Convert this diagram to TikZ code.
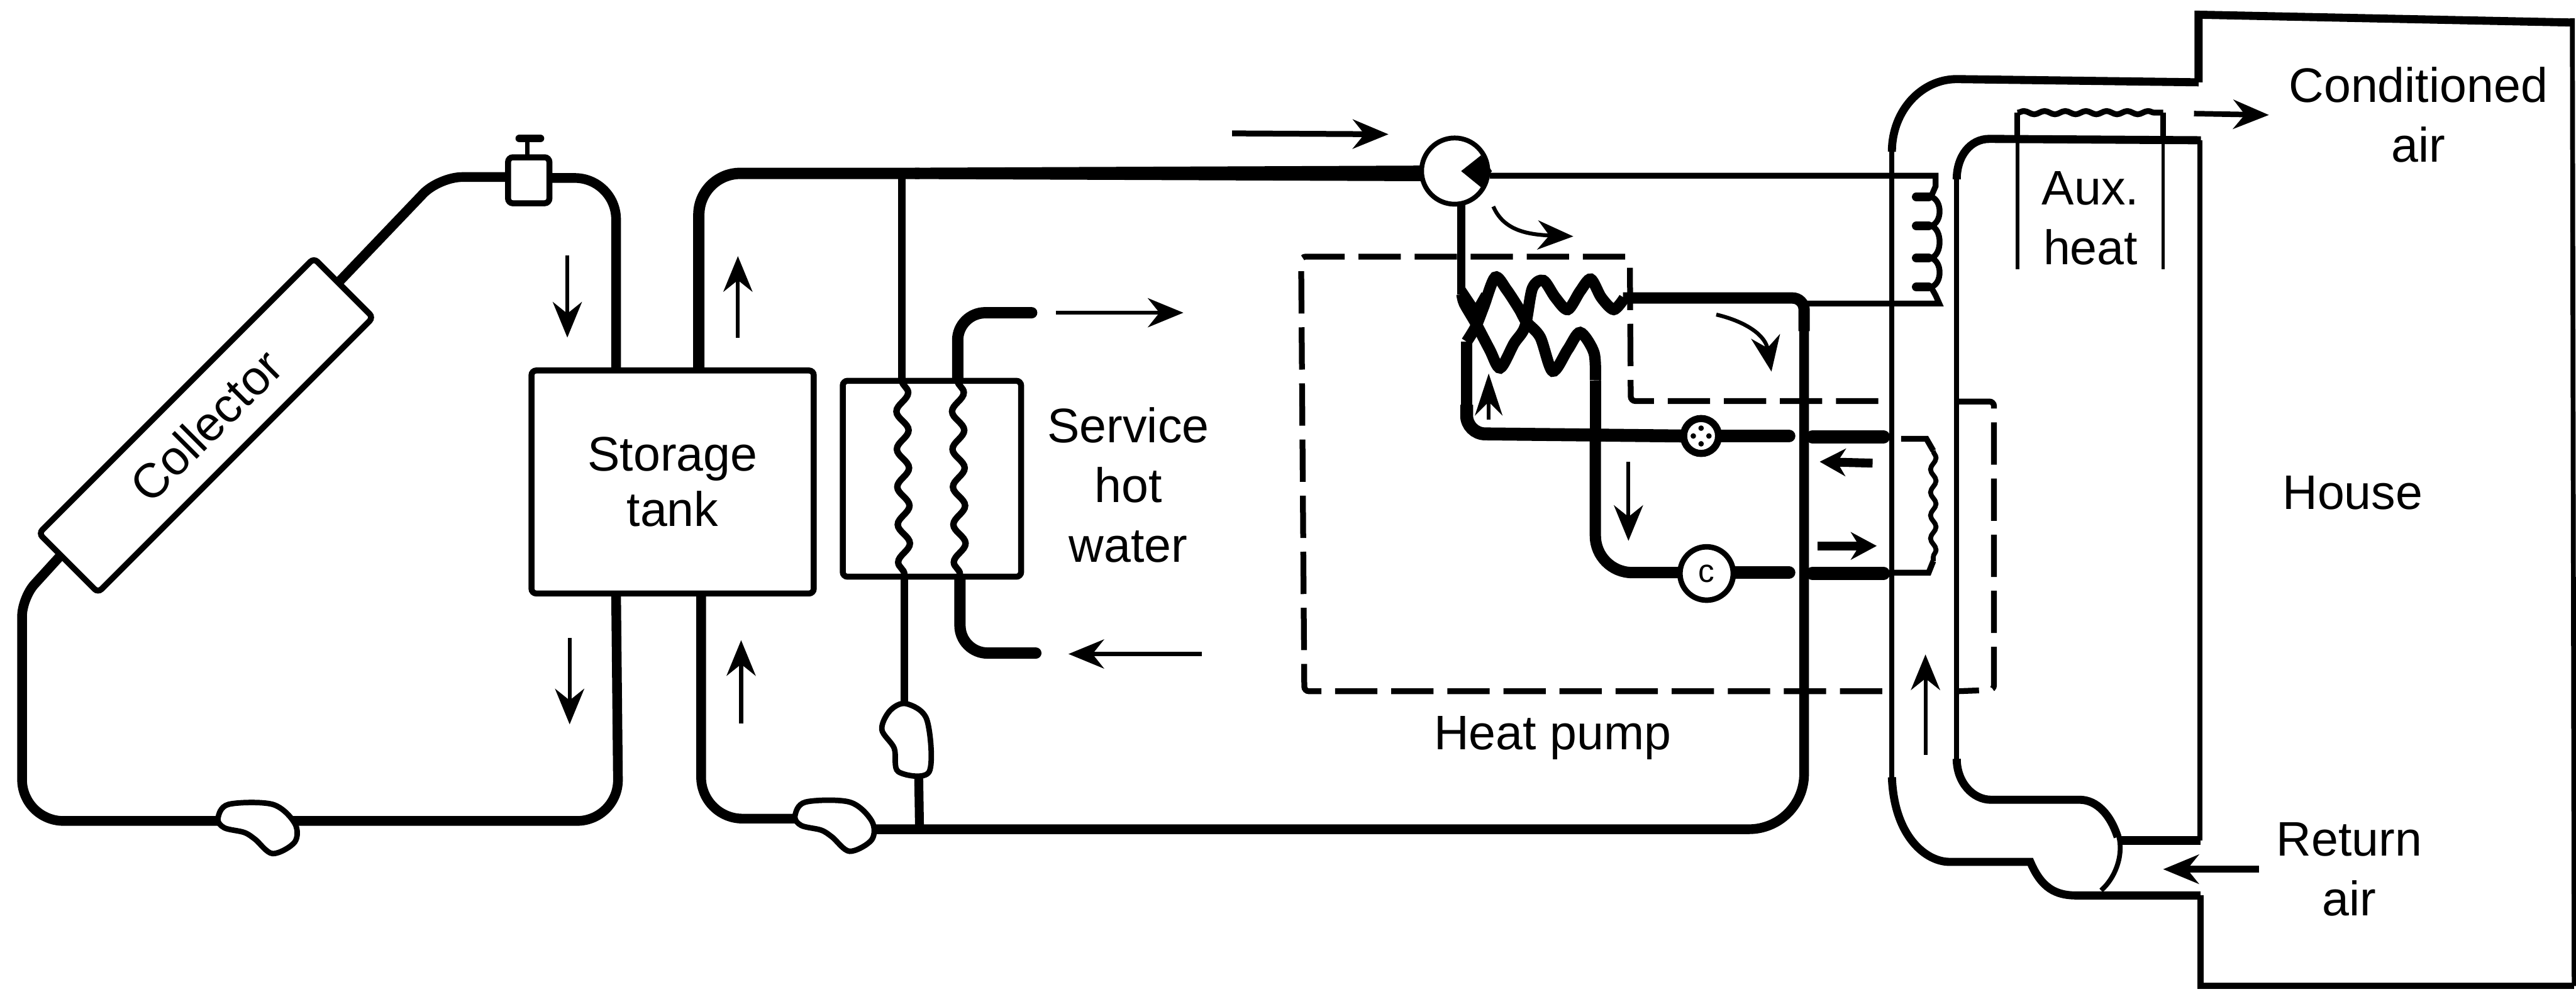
\documentclass[tikz,border=0pt]{standalone}
\usepackage{fontspec}
\setmainfont{Liberation Sans}
\usepackage{tikz}
\usetikzlibrary{arrows.meta,decorations.pathmorphing}

\tikzset{
  labeltext/.style={font=\fontsize{30}{37}\selectfont, align=center, inner sep=0pt},
  boxnode/.style={draw, line width=3.7pt, fill=white, rounded corners=3pt, inner sep=0pt},
  pipe/.style={line width=6pt},
  coilpipe/.style={line width=7pt},
  fatpipe/.style={line width=8pt, line cap=round},
  thinpipe/.style={line width=3.6pt},
  ductline/.style={line width=3pt},
  ductfat/.style={line width=5pt},
  pumpline/.style={draw, line width=3.4pt, fill=white},
  dashline/.style={line width=3.6pt, dash pattern=on 0.92cm off 0.3cm},
  wavy/.style={line width=4pt, decorate, decoration={snake, amplitude=0.13cm, segment length=0.82cm}},
  flowarrow/.style={line width=2.4pt, -{Stealth[length=22pt, width=18pt]}},
  fatarrow/.style={line width=5.5pt, -{Stealth[length=16pt, width=17pt]}},
}

\newcommand{\pumpbody}[1]{
  \draw[pumpline, shift={(#1)}] plot[smooth cycle, tension=0.55] coordinates
    {(-0.86,-0.05) (-0.63,-0.36) (0.33,-0.36) (0.81,0.05) (0.81,0.46) (0.33,0.71) (-0.05,0.4) (-0.29,0.25) (-0.72,0.15)};
}

\begin{document}
\begin{tikzpicture}[x=1cm, y=-1cm]
\useasboundingbox (0,0) rectangle (56.03,21.6);

% coordinates on the pipes
\coordinate (pumpA) at (5.6,17.85);
\coordinate (pumpB) at (18.15,17.8);
\coordinate (pumpBout) at (18.7,18.03);
\coordinate (pumpCin) at (19.67,15.4);
\coordinate (pumpCout) at (19.98,16.7);
\coordinate (colTop) at (7.4,6.1);
\coordinate (colLow) at (1.3,12.1);
\coordinate (valveIn) at (11.2,3.85);
\coordinate (valveOut) at (11.8,3.87);
\coordinate (tankTL) at (13.4,8.05);
\coordinate (tankBL) at (13.4,12.9);
\coordinate (tankTR) at (15.2,8.05);
\coordinate (tankBR) at (15.25,12.9);
\coordinate (exTL) at (19.62,8.28);
\coordinate (exBL) at (19.67,12.54);
\coordinate (exTR) at (20.83,8.28);
\coordinate (exBR) at (20.88,12.54);
\coordinate (coilEnd) at (35.3,6.48);
\coordinate (junction) at (39.24,6.6);

% collector loop
\draw[pipe, rounded corners=0.5cm] (colTop) -- (9.55,3.85) -- (valveIn);
\draw[pipe, rounded corners=0.9cm] (valveOut) -- (13.4,3.87) -- (tankTL);
\draw[pipe] (colLow) [rounded corners=0.4cm] -- (0.48,13.0) [rounded corners=0.9cm] -- (0.48,17.85) -- (pumpA);
\draw[pipe, rounded corners=0.9cm] (pumpA) -- (13.45,17.85) -- (tankBL);

% storage loop
\draw[pipe, line width=7pt, rounded corners=0.9cm] (tankTR) -- (15.2,3.77) -- (20,3.77);
\fill (19.9,3.647) -- (31,3.6) -- (31,3.94) -- (19.9,3.893) -- cycle;
\draw[pipe, rounded corners=0.9cm] (tankBR) -- (15.25,17.8) -- (pumpB);
\draw[pipe, rounded corners=1.2cm] (pumpBout) -- (39.24,18.03) -- (junction);
\draw[thinpipe, line width=4.6pt] (19.62,3.77) -- (exTL);
\draw[thinpipe, line width=4.6pt] (exBL) -- (pumpCin);
\draw[thinpipe, line width=5.5pt] (pumpCout) -- (20.0,18.03);

% service water
\draw[fatpipe, line width=7pt, rounded corners=0.6cm] (exTR) -- (20.83,6.8) -- (22.44,6.8);
\draw[fatpipe, line width=7pt, rounded corners=0.6cm] (exBR) -- (20.88,14.2) -- (22.53,14.2);
\node[boxnode, minimum width=3.88cm, minimum height=4.26cm] (exchanger) at (20.27,10.41) {};
\draw[wavy] (exTL) -- (exBL);
\draw[wavy] (exTR) -- (exBR);

% heat pump
\draw[thinpipe, line width=5pt] (31.78,4.3) -- (31.78,6.4);
\draw[coilpipe] plot[smooth, tension=0.5] coordinates
  {(31.8,6.4) (31.85,6.6) (32.1,7.03) (32.4,7.6) (32.63,8.0) (32.93,7.47) (33.17,7.1) (33.33,6.27) (33.57,6.1) (33.83,6.47) (34.1,6.73) (34.37,6.33) (34.6,6.07) (34.83,6.47) (35.1,6.73) (35.33,6.48)};
\draw[coilpipe] plot[smooth, tension=0.5] coordinates
  {(31.9,7.43) (32.1,7.1) (32.27,6.67) (32.52,6.03) (32.77,6.3) (33.05,6.73) (33.2,7.0) (33.5,7.33) (33.77,8.07) (34.1,7.6) (34.37,7.23) (34.67,7.67) (34.7,8.27)};
\draw[pipe, line width=5pt] (31.8,6.3) -- (32.1,6.75) -- (32.3,6.4);
\draw[coilpipe] (31.9,7.43) -- (31.9,8.9);
\draw[coilpipe] (34.7,8.27) -- (34.7,9.43);
\draw[fatpipe, line cap=butt, rounded corners=0.4cm] (31.9,8.8) -- (31.9,9.43) -- (36.6,9.48);
\draw[coilpipe, rounded corners=0.8cm] (34.7,9.43) -- (34.7,12.45) -- (36.6,12.45);
\draw[coilpipe, rounded corners=0.25cm] (coilEnd) -- (39.24,6.48) -- (39.24,7.2);
\draw[fatpipe] (37.4,12.45) -- (38.91,12.45);
\draw[fatpipe] (37.4,9.48) -- (38.91,9.48);
\draw[fatpipe] (39.42,9.5) -- (40.97,9.5);
\draw[fatpipe] (39.42,12.47) -- (40.97,12.47);

% dashed enclosure
\draw[dashline, rounded corners=0.1cm] (40.94,15.03) -- (28.37,15.03) -- (28.3,5.58) -- (35.45,5.58) -- (35.47,8.72) -- (41.16,8.72);
\draw[dashline, rounded corners=0.1cm] (42.56,8.73) -- (43.37,8.73) -- (43.37,15.0) -- (42.58,15.03);

% valves and compressor
\node[pumpline, circle, minimum size=1.44cm, line width=3pt] (threeway) at (31.64,3.72) {};
\fill (31.78,3.72) -- (32.21,3.38) -- (32.45,3.72) -- (32.21,4.07) -- cycle;
\node[pumpline, circle, minimum size=0.76cm, inner sep=0pt, line width=4.4pt] (expansion) at (37.0,9.48) {};
\foreach \a in {0,90,180,270}
  \fill (expansion.center) ++(\a:0.17) circle (0.06);
\node[pumpline, circle, minimum size=1.16cm, inner sep=0pt, font=\fontsize{20}{20}\selectfont] (compressor) at (37.12,12.47) {c};

% coils at the duct
\draw[thinpipe] (32.4,3.82) -- (42.1,3.82) -- (42.1,4.05) -- (42.0,4.28);
\draw[thinpipe] (junction) -- (42.18,6.6) -- (42.1,6.42) -- (42.0,6.24);
\foreach \y in {4.28,4.91,5.61,6.24}
  \draw[line width=5.4pt, line cap=round] (41.68,\y) -- (41.95,\y);
\draw[thinpipe] (42.0,4.28) .. controls (42.25,4.35) and (42.25,4.84) .. (42.0,4.91)
  .. controls (42.25,4.98) and (42.25,5.54) .. (42.0,5.61)
  .. controls (42.25,5.68) and (42.25,6.17) .. (42.0,6.24);
\draw[thinpipe] (41.35,9.54) -- (41.9,9.54) -- (42.05,9.8);
\draw[thinpipe, line width=3pt, decorate, decoration={snake, amplitude=0.06cm, segment length=0.5cm}] (42.05,9.8) -- (42.05,12.2);
\draw[thinpipe] (42.05,12.2) -- (41.95,12.45) -- (41.13,12.45);

% ducts and house
\draw[ductfat] (47.82,1.79) -- (42.56,1.72) .. controls (41.8,1.72) and (41.15,2.4) .. (41.15,3.3);
\draw[ductline] (41.15,3.2) -- (41.15,17.0);
\draw[ductfat] (41.15,16.9) .. controls (41.2,18.2) and (41.9,18.74) .. (42.4,18.74) -- (44.16,18.74) .. controls (44.4,19.3) and (44.7,19.48) .. (45.2,19.47) -- (47.86,19.47);
\draw[ductfat] (47.87,3.05) -- (43.27,3.02) .. controls (42.85,3.02) and (42.56,3.4) .. (42.56,3.9);
\draw[ductline] (42.56,3.8) -- (42.56,16.6);
\draw[ductfat] (42.56,16.5) .. controls (42.56,17.0) and (42.9,17.39) .. (43.31,17.39) -- (45.25,17.39) .. controls (45.6,17.4) and (45.9,17.7) .. (46.06,18.2);
\draw[ductfat, line width=5.5pt] (46.06,18.27) -- (47.86,18.27);
\draw[ductline] (46.08,18.17) .. controls (46.2,18.6) and (46.0,19.1) .. (45.7,19.36);
\draw[ductline] (47.85,3.05) -- (47.85,18.27);
\draw[ductfat] (47.82,1.79) -- (47.82,0.32) -- (55.95,0.49);
\draw[ductline] (55.95,0.4) -- (55.99,21.44);
\draw[ductfat, line width=4pt] (55.99,21.44) -- (47.86,21.44) -- (47.86,19.47);
\draw[ductline, line width=2.2pt] (43.88,2.95) -- (43.88,5.86);
\draw[ductline, line width=2.2pt] (47.05,2.95) -- (47.05,5.86);
\draw[thinpipe] (43.88,3.0) -- (43.88,2.45);
\draw[thinpipe, decorate, decoration={snake, amplitude=0.035cm, segment length=0.45cm}] (43.88,2.45) -- (47.05,2.45);
\draw[thinpipe] (47.05,2.45) -- (47.05,3.0);

% pumps and solar valve
\pumpbody{pumpA}
\pumpbody{pumpB}
\draw[pumpline] plot[smooth cycle, tension=0.55] coordinates
  {(19.71,15.3) (20.16,15.65) (20.21,16.78) (19.54,16.78) (19.45,16.27) (19.18,15.86) (19.36,15.45)};
\draw[line width=2.8pt] (11.47,2.98) -- (11.47,3.42);
\draw[line width=5pt, line cap=round] (11.3,3.01) -- (11.75,3.01);
\node[boxnode, minimum width=0.9cm, minimum height=1.0cm] (valve) at (11.5,3.92) {};

% boxes with text
\node[boxnode, rotate=45, minimum width=8.46cm, minimum height=1.82cm, labeltext, fill=white, draw, line width=3.7pt] (collector) at (4.48,9.25) {Collector};
\node[boxnode, minimum width=6.14cm, minimum height=4.85cm] (tank) at (14.63,10.48) {};
\node[labeltext] (tanktext) at (14.63,10.48) {Storage\\[-3pt]tank};
\node[labeltext] (hotwater) at (24.54,10.55) {Service\\hot\\water};
\node[labeltext] (heatpump) at (33.77,16.05) {Heat pump};
\node[labeltext] (aux) at (45.47,4.75) {Aux.\\heat};
\node[labeltext] (conditioned) at (52.6,2.5) {Conditioned\\air};
\node[labeltext] (house) at (51.17,10.72) {House};
\node[labeltext] (returnair) at (51.1,18.9) {Return\\air};

% flow arrows
\draw[flowarrow] (12.34,5.55) -- (12.34,7.34);
\draw[flowarrow] (12.39,13.87) -- (12.39,15.75);
\draw[flowarrow] (16.05,7.34) -- (16.05,5.57);
\draw[flowarrow] (16.12,15.73) -- (16.12,13.92);
\draw[flowarrow] (22.97,6.8) -- (25.74,6.8);
\draw[flowarrow] (26.14,14.22) -- (23.24,14.22);
\draw[flowarrow, line width=3.6pt] (26.8,2.9) -- (30.2,2.92);
\draw[flowarrow] (32.48,4.49) .. controls (32.7,5.0) and (33.2,5.1) .. (34.22,5.14);
\draw[flowarrow] (37.33,6.84) .. controls (38.0,7.0) and (38.4,7.3) .. (38.53,8.08);
\draw[flowarrow] (35.42,10.04) -- (35.42,11.76);
\draw[flowarrow, -{Stealth[length=26pt, width=17pt]}] (32.38,9.12) -- (32.38,8.12);
\draw[fatarrow] (40.73,10.07) -- (39.58,10.04);
\draw[fatarrow] (39.53,11.87) -- (40.82,11.87);
\draw[flowarrow] (41.88,16.41) -- (41.88,14.23);
\draw[flowarrow, line width=3.4pt] (47.72,2.47) -- (49.35,2.5);
\draw[flowarrow, line width=4.4pt] (49.14,18.9) -- (47.05,18.9);

\end{tikzpicture}
\end{document}
